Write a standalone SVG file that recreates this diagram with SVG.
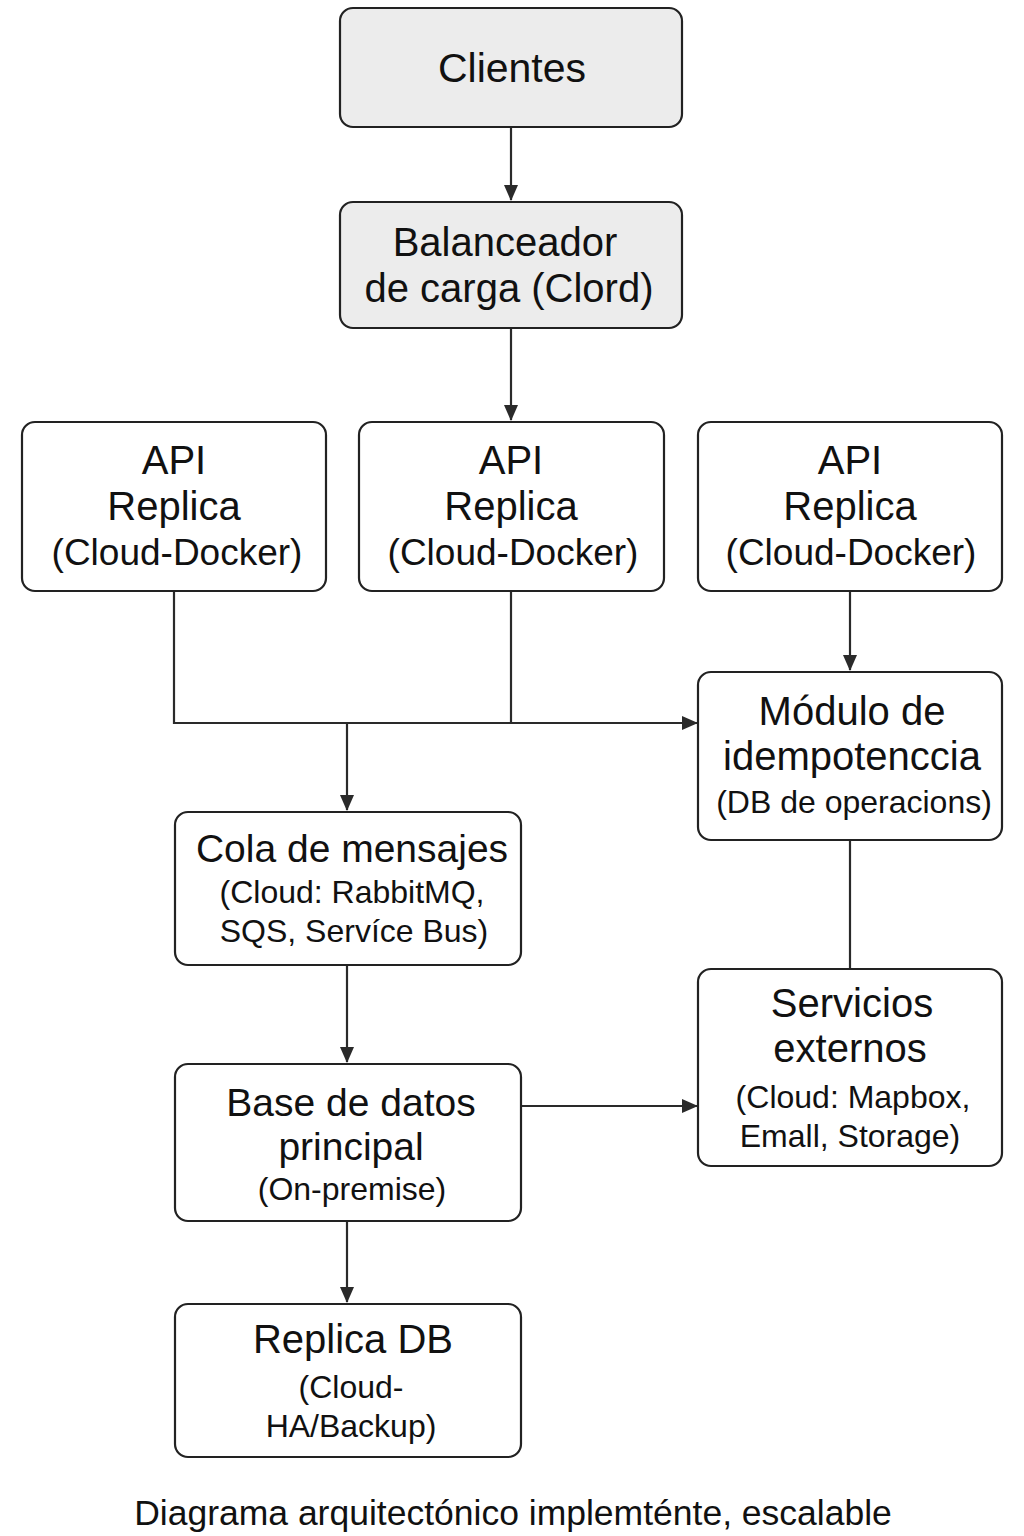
<svg xmlns="http://www.w3.org/2000/svg" width="1024" height="1536" viewBox="0 0 1024 1536">
<defs>
<marker id="ah" markerWidth="16" markerHeight="14" refX="15" refY="7" orient="auto" markerUnits="userSpaceOnUse">
<path d="M0,0 L16,7 L0,14 Z" fill="#2a2a2a"/>
</marker>
<style>
.box{fill:#ffffff;stroke:#222;stroke-width:2.2}
.grey{fill:#ececec}
.t{font-family:"Liberation Sans",Arial,Helvetica,sans-serif;fill:#111;text-anchor:middle}
.l{font-size:40px}
.s{font-size:32px}
.m{font-size:39px}
.d{font-size:37px}
.c{stroke:#2a2a2a;stroke-width:2.2;fill:none}
</style>
</defs>
<rect width="1024" height="1536" fill="#ffffff"/>
<g id="connectors">
<path class="c" d="M511,127 V200" marker-end="url(#ah)"/>
<path class="c" d="M511,328 V420" marker-end="url(#ah)"/>
<path class="c" d="M174,591 V723 H697" marker-end="url(#ah)"/>
<path class="c" d="M511,591 V723"/>
<path class="c" d="M347,723 V810" marker-end="url(#ah)"/>
<path class="c" d="M850,591 V670" marker-end="url(#ah)"/>
<path class="c" d="M850,840 V969"/>
<path class="c" d="M347,965 V1062" marker-end="url(#ah)"/>
<path class="c" d="M521,1106 H697" marker-end="url(#ah)"/>
<path class="c" d="M347,1221 V1302" marker-end="url(#ah)"/>
</g>
<g id="clientes">
<rect class="box grey" x="340" y="8" width="342" height="119" rx="13"/>
<text class="t" x="512" y="82" font-size="41">Clientes</text>
</g>
<g id="balanceador">
<rect class="box grey" x="340" y="202" width="342" height="126" rx="13"/>
<text class="t l" x="505" y="256">Balanceador</text>
<text class="t l" x="509" y="302">de carga (Clord)</text>
</g>
<g id="api1">
<rect class="box" x="22" y="422" width="304" height="169" rx="13"/>
<text class="t l" x="174" y="474">API</text>
<text class="t l" x="174" y="520">Replica</text>
<text class="t d" x="177" y="565">(Cloud-Docker)</text>
</g>
<g id="api2">
<rect class="box" x="359" y="422" width="305" height="169" rx="13"/>
<text class="t l" x="511" y="474">API</text>
<text class="t l" x="511" y="520">Replica</text>
<text class="t d" x="513" y="565">(Cloud-Docker)</text>
</g>
<g id="api3">
<rect class="box" x="698" y="422" width="304" height="169" rx="13"/>
<text class="t l" x="850" y="474">API</text>
<text class="t l" x="850" y="520">Replica</text>
<text class="t d" x="851" y="565">(Cloud-Docker)</text>
</g>
<g id="idempotencia">
<rect class="box" x="698" y="672" width="304" height="168" rx="13"/>
<text class="t l" x="852" y="725">Módulo de</text>
<text class="t l" x="852" y="770">idempotenccia</text>
<text class="t s" x="854" y="813">(DB de operacions)</text>
</g>
<g id="cola">
<rect class="box" x="175" y="812" width="346" height="153" rx="13"/>
<text class="t m" x="352" y="862">Cola de mensajes</text>
<text class="t s" x="352" y="903">(Cloud: RabbitMQ,</text>
<text class="t s" x="354" y="942">SQS, Servíce Bus)</text>
</g>
<g id="servicios">
<rect class="box" x="698" y="969" width="304" height="197" rx="13"/>
<text class="t l" x="852" y="1017">Servicios</text>
<text class="t l" x="850" y="1062">externos</text>
<text class="t s" x="853" y="1108">(Cloud: Mapbox,</text>
<text class="t s" x="850" y="1147">Emall, Storage)</text>
</g>
<g id="basedatos">
<rect class="box" x="175" y="1064" width="346" height="157" rx="13"/>
<text class="t m" x="351" y="1116">Base de datos</text>
<text class="t m" x="351" y="1160">principal</text>
<text class="t s" x="352" y="1200">(On-premise)</text>
</g>
<g id="replicadb">
<rect class="box" x="175" y="1304" width="346" height="153" rx="13"/>
<text class="t l" x="353" y="1353">Replica DB</text>
<text class="t s" x="351" y="1398">(Cloud-</text>
<text class="t s" x="351" y="1437">HA/Backup)</text>
</g>
<g id="caption">
<text class="t" x="513" y="1525" font-size="35.5">Diagrama arquitectónico implemténte, escalable</text>
</g>
</svg>
